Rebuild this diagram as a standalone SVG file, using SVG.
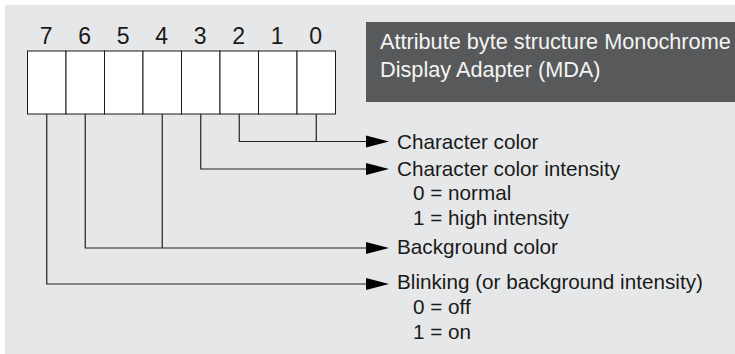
<svg xmlns="http://www.w3.org/2000/svg" width="735" height="354" viewBox="0 0 735 354">
<style>
.bg{fill:#e6e7e8}
.cell{fill:#ffffff;stroke:#1a1a1a;stroke-width:1}
.digit{font-family:"Liberation Sans",Arial,sans-serif;font-size:23px;fill:#1a1a1a;text-anchor:middle}
.lbl{font-family:"Liberation Sans",Arial,sans-serif;font-size:20.7px;fill:#1a1a1a}
.title{font-family:"Liberation Sans",Arial,sans-serif;font-size:21.7px;fill:#f4f4f4}
.conn{fill:none;stroke:#222;stroke-width:1.2}
.head{fill:#000}
</style>
<rect class="bg" x="5" y="5" width="730" height="349"/>
<g id="title">
<rect x="366" y="22" width="369" height="80" fill="#58595b"/>
<text class="title" x="380" y="49">Attribute byte structure Monochrome</text>
<text class="title" x="380" y="77">Display Adapter (MDA)</text>
</g>
<g id="byte">
<rect class="cell" x="27.5" y="51" width="38.5" height="63"/>
<rect class="cell" x="66" y="51" width="38.5" height="63"/>
<rect class="cell" x="104.5" y="51" width="38.5" height="63"/>
<rect class="cell" x="143" y="51" width="38.5" height="63"/>
<rect class="cell" x="181.5" y="51" width="38.5" height="63"/>
<rect class="cell" x="220" y="51" width="38.5" height="63"/>
<rect class="cell" x="258.5" y="51" width="38.5" height="63"/>
<rect class="cell" x="297" y="51" width="38.5" height="63"/>
<text class="digit" x="46.25" y="43.5">7</text>
<text class="digit" x="84.75" y="43.5">6</text>
<text class="digit" x="123.25" y="43.5">5</text>
<text class="digit" x="161.75" y="43.5">4</text>
<text class="digit" x="200.25" y="43.5">3</text>
<text class="digit" x="238.75" y="43.5">2</text>
<text class="digit" x="277.25" y="43.5">1</text>
<text class="digit" x="315.75" y="43.5">0</text>
</g>
<g id="connectors">
<path class="conn" d="M239.25 114V141.5H366M316.25 114V141.5"/>
<path class="conn" d="M200.75 114V169H366"/>
<path class="conn" d="M85.25 114V248H366M162.25 114V248"/>
<path class="conn" d="M46.75 114V284H366"/>
<polygon class="head" points="366,135.5 389,141.5 366,147.5"/>
<polygon class="head" points="366,163 389,169 366,175"/>
<polygon class="head" points="366,242 389,248 366,254"/>
<polygon class="head" points="366,278 389,284 366,290"/>
</g>
<g id="char-color">
<text class="lbl" x="397" y="149">Character color</text>
</g>
<g id="char-intensity">
<text class="lbl" x="397" y="176">Character color intensity</text>
<text class="lbl" x="413" y="200">0 = normal</text>
<text class="lbl" x="413" y="225">1 = high intensity</text>
</g>
<g id="bg-color">
<text class="lbl" x="397" y="254">Background color</text>
</g>
<g id="blinking">
<text class="lbl" x="397" y="289">Blinking (or background intensity)</text>
<text class="lbl" x="413" y="313.5">0 = off</text>
<text class="lbl" x="413" y="338.5">1 = on</text>
</g>
</svg>
